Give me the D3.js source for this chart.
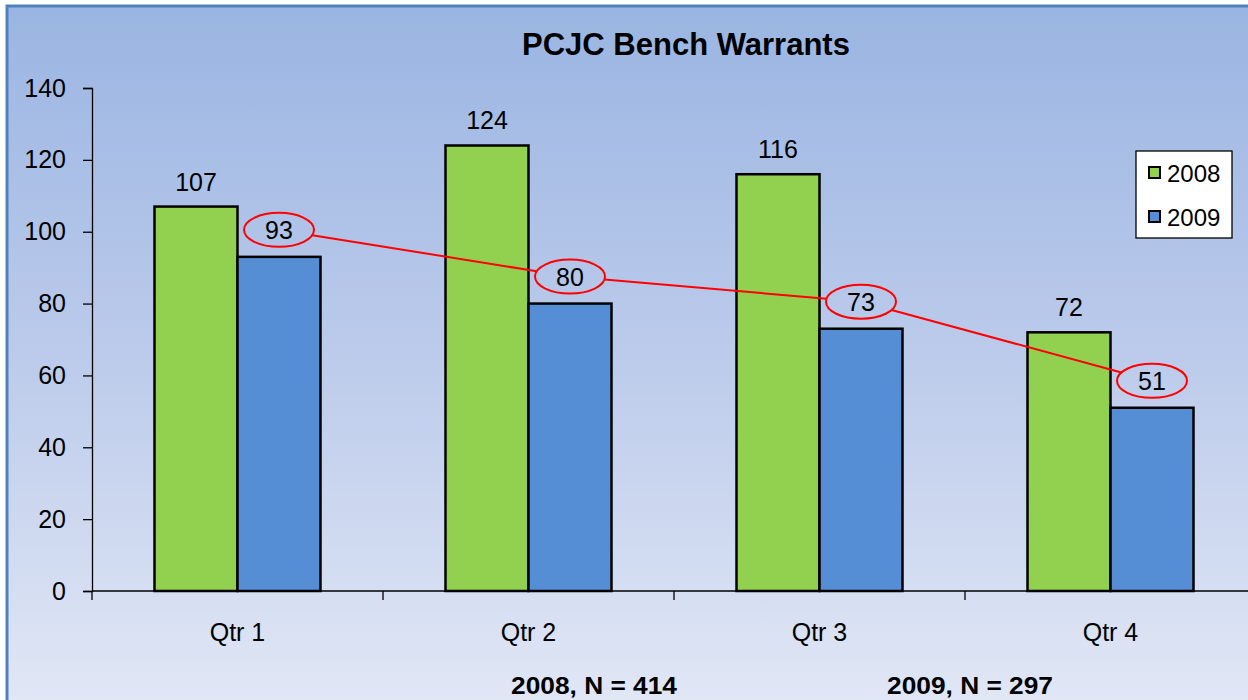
<!DOCTYPE html>
<html>
<head>
<meta charset="utf-8">
<script src="https://cdn.jsdelivr.net/npm/d3@7"></script>
<style>
  body { margin: 0; padding: 0; background: #fff; }
  svg text { font-family: "Liberation Sans", Arial, sans-serif; }
</style>
</head>
<body>
<svg id="chart"></svg>
<script>
// chart data
var quarters = ["Qtr 1", "Qtr 2", "Qtr 3", "Qtr 4"];
var years = ["2008", "2009"];
var values2008 = [107, 124, 116, 72];
var values2009 = [93, 80, 73, 51];
var yTicks = [0, 20, 40, 60, 80, 100, 120, 140];
var totalsText = ["2008, N = 414", "2009, N = 297"];

var svgWidth = 1248;
var svgHeight = 700;
var margin = { top: 88, left: 92, bottom: 109 };
var chartHeight = svgHeight - margin.top - margin.bottom; // 503
var chartWidth = 1164;

var svg = d3.select("#chart")
    .attr("width", svgWidth)
    .attr("height", svgHeight);

// background gradient
var defs = svg.append("defs");
var grad = defs.append("linearGradient")
    .attr("id", "bg")
    .attr("x1", 0).attr("y1", 0).attr("x2", 0).attr("y2", 1);
grad.append("stop").attr("offset", "0%").attr("stop-color", "#9ab5e2");
grad.append("stop").attr("offset", "50%").attr("stop-color", "#bccbeb");
grad.append("stop").attr("offset", "100%").attr("stop-color", "#e1e7f5");

svg.append("rect")
    .attr("x", 7).attr("y", 6)
    .attr("width", svgWidth).attr("height", svgHeight)
    .attr("fill", "url(#bg)")
    .attr("stroke", "#4f81bd")
    .attr("stroke-width", 3);

// title
svg.append("text")
    .attr("x", 686)
    .attr("y", 55)
    .attr("text-anchor", "middle")
    .style("font-size", "31px")
    .style("font-weight", "bold")
    .text("PCJC Bench Warrants");

var chart = svg.append("g")
    .attr("transform", "translate(" + margin.left + "," + margin.top + ")");

var xScale = d3.scaleBand()
    .domain(quarters)
    .range([0, chartWidth])
    .paddingInner(0)
    .paddingOuter(0);

var yScale = d3.scaleLinear()
    .domain([0, 140])
    .range([chartHeight, 0]);

var barW = 83;

// y axis
var yAxis = chart.append("g")
    .call(d3.axisLeft(yScale).tickValues(yTicks).tickSize(9).tickPadding(17));
yAxis.select(".domain").attr("stroke", "#000").attr("stroke-width", 1.3);
yAxis.selectAll(".tick line").attr("stroke", "#000").attr("stroke-width", 1.3);
yAxis.selectAll(".tick text")
    .style("font-size", "25px")
    .style("font-family", "'Liberation Sans', Arial, sans-serif")
    .attr("fill", "#000");

// x axis line and ticks
chart.append("line")
    .attr("x1", 0).attr("x2", chartWidth)
    .attr("y1", chartHeight).attr("y2", chartHeight)
    .attr("stroke", "#000").attr("stroke-width", 1.3);

var tickPos = quarters.map(function (q) { return xScale(q); });
tickPos.push(chartWidth);
chart.selectAll(".x-tick")
    .data(tickPos)
    .enter()
    .append("line")
    .attr("class", "x-tick")
    .attr("x1", function (d) { return d; })
    .attr("x2", function (d) { return d; })
    .attr("y1", chartHeight)
    .attr("y2", chartHeight + 9)
    .attr("stroke", "#000").attr("stroke-width", 1.3);

chart.selectAll(".x-label")
    .data(quarters)
    .enter()
    .append("text")
    .attr("class", "x-label")
    .attr("x", function (d) { return xScale(d) + xScale.bandwidth() / 2; })
    .attr("y", chartHeight + 50)
    .attr("text-anchor", "middle")
    .style("font-size", "25px")
    .text(function (d) { return d; });

// bars 2008
chart.selectAll(".bar2008")
    .data(values2008)
    .enter()
    .append("rect")
    .attr("class", "bar2008")
    .attr("x", function (d, i) { return xScale(quarters[i]) + xScale.bandwidth() / 2 - barW; })
    .attr("y", function (d) { return yScale(d); })
    .attr("width", barW)
    .attr("height", function (d) { return chartHeight - yScale(d); })
    .attr("fill", "#92d050")
    .attr("stroke", "#000")
    .attr("stroke-width", 2.5);

// bars 2009
chart.selectAll(".bar2009")
    .data(values2009)
    .enter()
    .append("rect")
    .attr("class", "bar2009")
    .attr("x", function (d, i) { return xScale(quarters[i]) + xScale.bandwidth() / 2; })
    .attr("y", function (d) { return yScale(d); })
    .attr("width", barW)
    .attr("height", function (d) { return chartHeight - yScale(d); })
    .attr("fill", "#558ed5")
    .attr("stroke", "#000")
    .attr("stroke-width", 2.5);

// 2008 labels
chart.selectAll(".label2008")
    .data(values2008)
    .enter()
    .append("text")
    .attr("class", "label2008")
    .attr("x", function (d, i) { return xScale(quarters[i]) + xScale.bandwidth() / 2 - barW / 2; })
    .attr("y", function (d) { return yScale(d) - 16; })
    .attr("text-anchor", "middle")
    .style("font-size", "25px")
    .text(function (d) { return d; });

// 2009 labels with red ellipses and connecting line
var rx = 35, ry = 17;
var pts = values2009.map(function (d, i) {
    return {
        v: d,
        x: xScale(quarters[i]) + xScale.bandwidth() / 2 + barW / 2,
        y: yScale(d) - 27
    };
});

function edge(p, q) {
    var dx = q.x - p.x, dy = q.y - p.y;
    var t = 1 / Math.sqrt((dx / rx) * (dx / rx) + (dy / ry) * (dy / ry));
    return [p.x + dx * t, p.y + dy * t];
}

for (var i = 0; i < pts.length - 1; i++) {
    var a = edge(pts[i], pts[i + 1]);
    var b = edge(pts[i + 1], pts[i]);
    chart.append("line")
        .attr("x1", a[0]).attr("y1", a[1])
        .attr("x2", b[0]).attr("y2", b[1])
        .attr("stroke", "#ff0000")
        .attr("stroke-width", 2);
}

chart.selectAll(".ring")
    .data(pts)
    .enter()
    .append("ellipse")
    .attr("class", "ring")
    .attr("cx", function (d) { return d.x; })
    .attr("cy", function (d) { return d.y; })
    .attr("rx", rx)
    .attr("ry", ry)
    .attr("fill", "none")
    .attr("stroke", "#ff0000")
    .attr("stroke-width", 2);

chart.selectAll(".label2009")
    .data(pts)
    .enter()
    .append("text")
    .attr("class", "label2009")
    .attr("x", function (d) { return d.x; })
    .attr("y", function (d) { return d.y + 9; })
    .attr("text-anchor", "middle")
    .style("font-size", "25px")
    .text(function (d) { return d.v; });

// legend
var legend = svg.append("g").attr("transform", "translate(1136,151)");
legend.append("rect")
    .attr("width", 96).attr("height", 87)
    .attr("fill", "#fff")
    .attr("stroke", "#000")
    .attr("stroke-width", 1.3);
var legColors = ["#92d050", "#558ed5"];
var items = legend.selectAll(".leg")
    .data(years)
    .enter()
    .append("g")
    .attr("class", "leg")
    .attr("transform", function (d, i) { return "translate(0," + (22 + i * 44) + ")"; });
items.append("rect")
    .attr("x", 13).attr("y", -6)
    .attr("width", 11).attr("height", 11)
    .attr("fill", function (d, i) { return legColors[i]; })
    .attr("stroke", "#000")
    .attr("stroke-width", 2);
items.append("text")
    .attr("x", 31).attr("y", 9)
    .style("font-size", "24px")
    .text(function (d) { return d; });

// totals at the bottom
svg.selectAll(".total")
    .data(totalsText)
    .enter()
    .append("text")
    .attr("class", "total")
    .attr("x", function (d, i) { return [594, 970][i]; })
    .attr("y", 694)
    .attr("text-anchor", "middle")
    .attr("textLength", 166)
    .attr("lengthAdjust", "spacingAndGlyphs")
    .style("font-size", "24px")
    .style("font-weight", "bold")
    .text(function (d) { return d; });
</script>
</body>
</html>
